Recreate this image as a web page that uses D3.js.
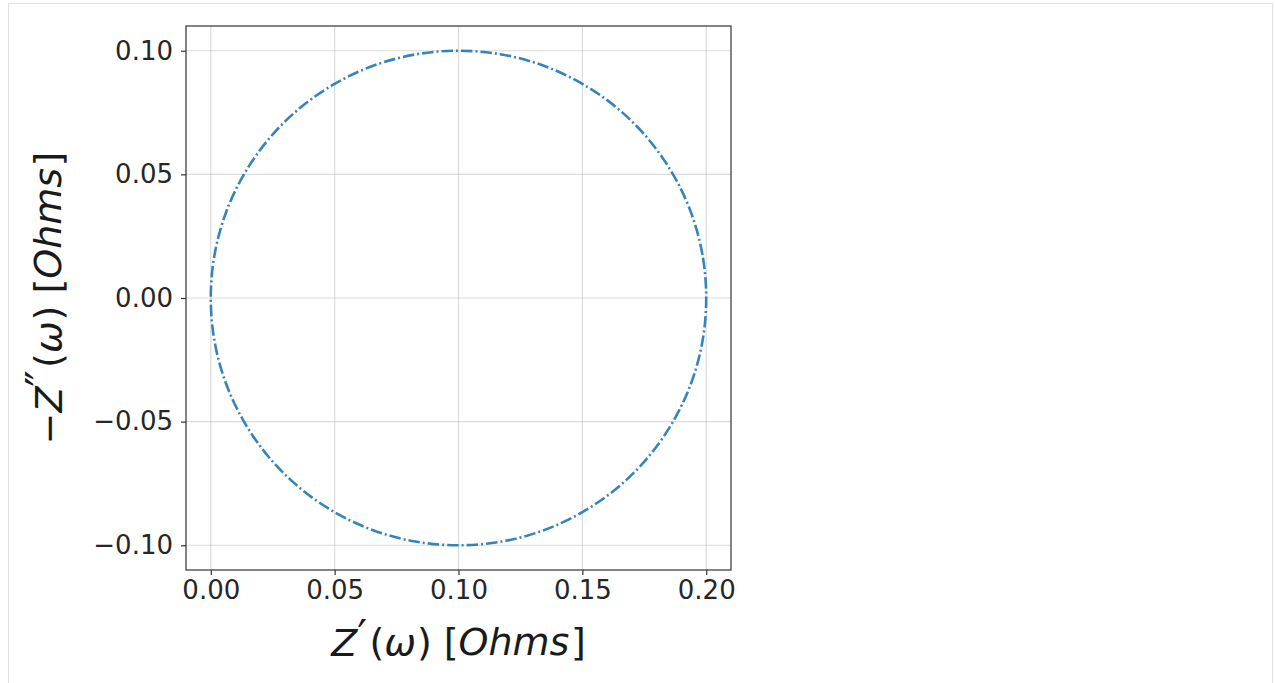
<!DOCTYPE html>
<html>
<head>
<meta charset="utf-8">
<script src="https://cdn.jsdelivr.net/npm/d3@7"></script>
<style>
  body { margin: 0; background: #fff; }
  svg text { font-family: "DejaVu Sans", sans-serif; }
</style>
</head>
<body>
<svg id="chart" width="1275" height="683"></svg>
<script>
var zReal = [0.2000, 0.1985, 0.1940, 0.1866, 0.1766, 0.1643, 0.1500, 0.1342, 0.1174,
             0.1000, 0.0826, 0.0658, 0.0500, 0.0357, 0.0234, 0.0134, 0.0060, 0.0015,
             0.0000, 0.0015, 0.0060, 0.0134, 0.0234, 0.0357, 0.0500, 0.0658, 0.0826,
             0.1000, 0.1174, 0.1342, 0.1500, 0.1643, 0.1766, 0.1866, 0.1940, 0.1985];
var zImag = [0.0000, 0.0174, 0.0342, 0.0500, 0.0643, 0.0766, 0.0866, 0.0940, 0.0985,
             0.1000, 0.0985, 0.0940, 0.0866, 0.0766, 0.0643, 0.0500, 0.0342, 0.0174,
             0.0000, -0.0174, -0.0342, -0.0500, -0.0643, -0.0766, -0.0866, -0.0940, -0.0985,
             -0.1000, -0.0985, -0.0940, -0.0866, -0.0766, -0.0643, -0.0500, -0.0342, -0.0174];
var xTicks = [0.00, 0.05, 0.10, 0.15, 0.20];
var yTicks = [-0.10, -0.05, 0.00, 0.05, 0.10];

var svg = d3.select("#chart");

// outer frame of the output cell
svg.append("rect")
    .attr("x", 8.5).attr("y", 3.5)
    .attr("width", 1264).attr("height", 690)
    .attr("fill", "none")
    .attr("stroke", "#e0e0e0");

var m = {left: 186, right: 731, top: 26, bottom: 570};

var x = d3.scaleLinear()
        .domain([-0.01, 0.21])
        .range([m.left, m.right]),
    y = d3.scaleLinear()
        .domain([-0.11, 0.11])
        .range([m.bottom, m.top]);

var fmt = function(d) { return d3.format(".2f")(d).replace("-", "\u2212"); };

// grid
var grid = svg.append("g");
grid.selectAll(".gx").data(xTicks).enter().append("line")
    .attr("x1", function(d) { return x(d); })
    .attr("x2", function(d) { return x(d); })
    .attr("y1", m.top).attr("y2", m.bottom)
    .attr("stroke", "#b0b0b0").attr("stroke-opacity", 0.45).attr("stroke-width", 1.2);
grid.selectAll(".gy").data(yTicks).enter().append("line")
    .attr("y1", function(d) { return y(d); })
    .attr("y2", function(d) { return y(d); })
    .attr("x1", m.left).attr("x2", m.right)
    .attr("stroke", "#b0b0b0").attr("stroke-opacity", 0.45).attr("stroke-width", 1.2);

// circle (Nyquist curve)
var pts = zReal.map(function(v, i) { return [v, zImag[i]]; });
var line = d3.line()
    .x(function(d) { return x(d[0]); })
    .y(function(d) { return y(d[1]); })
    .curve(d3.curveCatmullRomClosed);

svg.append("path")
    .datum(pts)
    .attr("d", line)
    .attr("fill", "none")
    .attr("stroke", "#1f77b4")
    .attr("stroke-opacity", 0.9)
    .attr("stroke-width", 2.6)
    .attr("stroke-dasharray", "11.5,3,2,3");

// axes
var xAxis = svg.append("g")
    .attr("transform", "translate(0," + m.bottom + ")")
    .call(d3.axisBottom(x).tickValues(xTicks).tickFormat(fmt).tickSize(5).tickPadding(6));
var yAxis = svg.append("g")
    .attr("transform", "translate(" + m.left + ",0)")
    .call(d3.axisLeft(y).tickValues(yTicks).tickFormat(fmt).tickSize(5).tickPadding(8));

[xAxis, yAxis].forEach(function(a) {
    a.select(".domain").remove();
    a.selectAll("line").attr("stroke", "#333").attr("stroke-width", 1.2);
    a.selectAll("text")
        .attr("fill", "#262626")
        .style("font-family", "'DejaVu Sans', sans-serif")
        .style("font-size", "26px");
});

// spines
svg.append("rect")
    .attr("x", m.left).attr("y", m.top)
    .attr("width", m.right - m.left).attr("height", m.bottom - m.top)
    .attr("fill", "none")
    .attr("stroke", "#333")
    .attr("stroke-width", 1.2);

// axis labels (mathtext-like)
function label(t, primes) {
    t.append("tspan").style("font-style", "italic").text("Z");
    t.append("tspan").attr("dy", "-0.1em").style("font-size", "1.15em").text(primes);
    t.append("tspan").attr("dy", "0.1em").attr("dx", "0.06em").text("(");
    t.append("tspan").style("font-style", "italic").text("\u03c9");
    t.append("tspan").attr("dx", "0.02em").text(") [");
    t.append("tspan").style("font-style", "italic").text("Ohms");
    t.append("tspan").attr("dx", "0.04em").text("]");
}

var xl = svg.append("text")
    .attr("x", (m.left + m.right) / 2)
    .attr("y", 656)
    .attr("text-anchor", "middle")
    .attr("fill", "#1a1a1a")
    .style("font-size", "38px");
label(xl, "\u2032");

var yl = svg.append("text")
    .attr("transform", "translate(62," + (m.top + m.bottom) / 2 + ") rotate(-90)")
    .attr("text-anchor", "middle")
    .attr("fill", "#1a1a1a")
    .style("font-size", "38px");
yl.append("tspan").text("\u2212");
label(yl, "\u2033");
</script>
</body>
</html>
